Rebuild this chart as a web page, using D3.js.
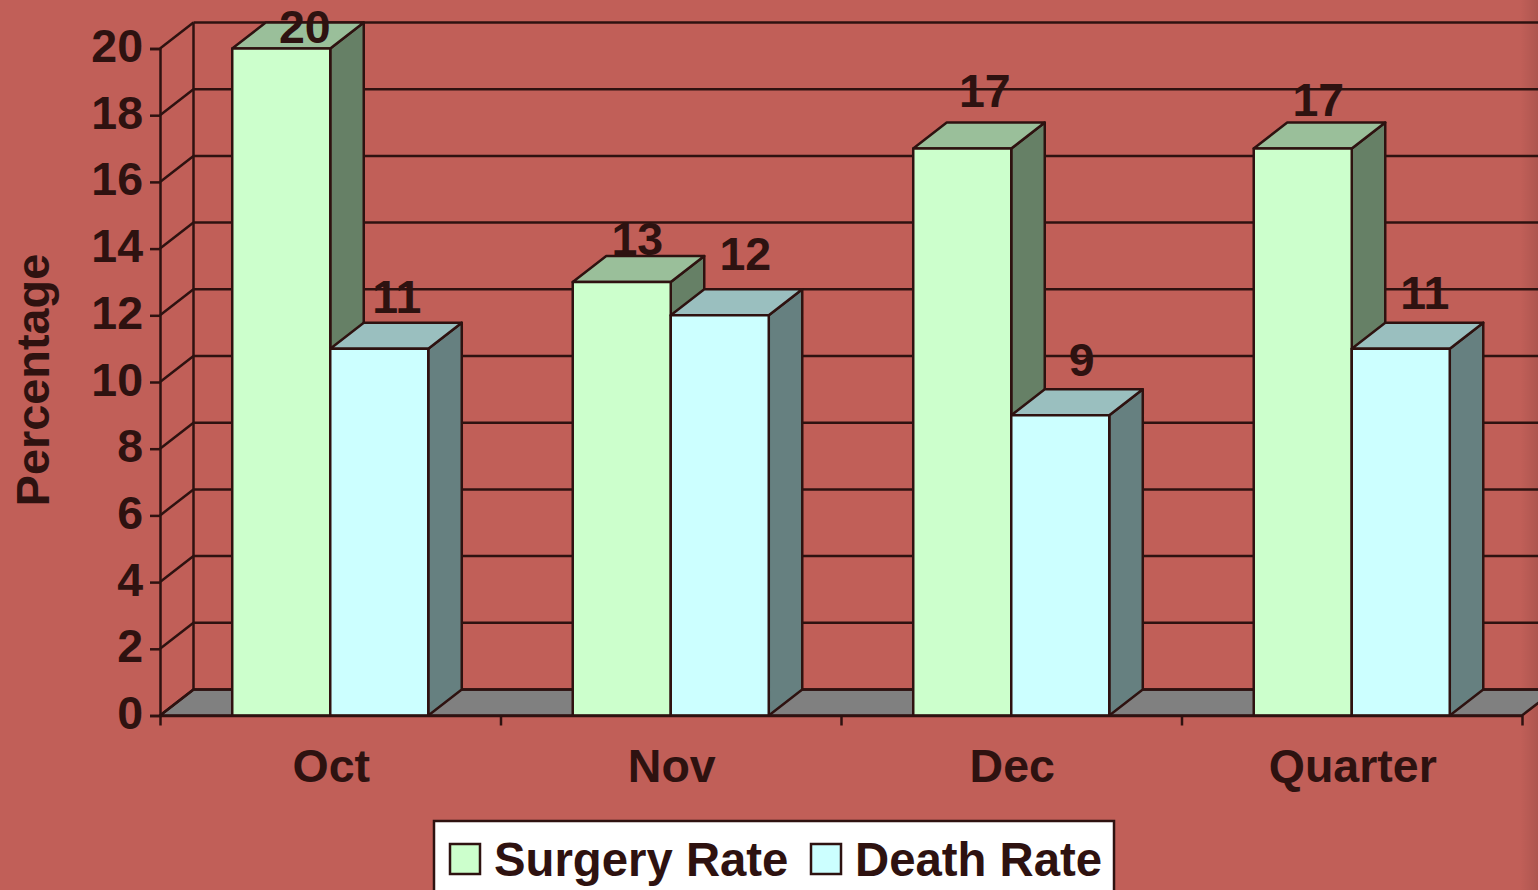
<!DOCTYPE html>
<html>
<head>
<meta charset="utf-8">
<script src="https://cdn.jsdelivr.net/npm/d3@7"></script>
<style>
  html, body { margin: 0; padding: 0; background: #c15f58; overflow: hidden; }
  svg { display: block; }
  text { font-family: "Liberation Sans", Arial, sans-serif; font-weight: bold; fill: #2e1210; }
</style>
</head>
<body>
<svg id="chart"></svg>
<script>
var categories = ['Oct', 'Nov', 'Dec', 'Quarter'];
var seriesNames = ['Surgery Rate', 'Death Rate'];
var surgeryRate = [20, 13, 17, 17];
var deathRate = [11, 12, 9, 11];
var yTicks = [0, 2, 4, 6, 8, 10, 12, 14, 16, 18, 20];

var ink = '#2e1210';
var front = ['#ccffcc', '#ccffff'];
var top3d = ['#9abf9a', '#9abfbf'];
var side = ['#668066', '#668080'];

// the 3d look: everything at the back is shifted by this much
var depthX = 33.5, depthY = -26;
var lineW = 2.5;

var width = 1538, height = 890;

var svg = d3.select('#chart').attr('width', width).attr('height', height);

var defs = svg.append('defs');
var edge = defs.append('linearGradient').attr('id', 'edge');
edge.append('stop').attr('offset', '0').attr('stop-color', '#000').attr('stop-opacity', 0);
edge.append('stop').attr('offset', '1').attr('stop-color', '#000').attr('stop-opacity', 0.1);

svg.append('rect')
  .attr('x', 1520).attr('y', 0)
  .attr('width', 18).attr('height', height)
  .attr('fill', 'url(#edge)');

var x = d3.scaleBand().domain(categories).range([160, 1522]);
var xInner = d3.scaleBand()
  .domain(d3.range(seriesNames.length))
  .range([0, x.bandwidth()])
  .paddingInner(0)
  .paddingOuter(0.737);
var y = d3.scaleLinear().domain([0, 20]).range([715.5, 48.5]);

function pts(list) {
  return list.map(function (p) { return p.join(','); }).join(' ');
}

// floor
svg.append('polygon')
  .attr('points', pts([[160, y(0)], [160 + depthX, y(0) + depthY], [1522 + depthX, y(0) + depthY], [1522, y(0)]]))
  .attr('fill', '#808080')
  .attr('stroke', ink)
  .attr('stroke-width', lineW);

// back wall grid lines and the diagonals on the side wall
var grid = svg.append('g').attr('stroke', ink).attr('stroke-width', lineW);
grid.selectAll('.back')
  .data(yTicks)
  .enter()
  .append('line')
  .attr('class', 'back')
  .attr('x1', 160 + depthX)
  .attr('x2', width)
  .attr('y1', function (d) { return y(d) + depthY; })
  .attr('y2', function (d) { return y(d) + depthY; });
grid.selectAll('.diag')
  .data(yTicks)
  .enter()
  .append('line')
  .attr('class', 'diag')
  .attr('x1', 160)
  .attr('x2', 160 + depthX)
  .attr('y1', function (d) { return y(d); })
  .attr('y2', function (d) { return y(d) + depthY; });
grid.append('line')
  .attr('x1', 160 + depthX).attr('x2', 160 + depthX)
  .attr('y1', y(0) + depthY).attr('y2', y(20) + depthY);

// bars, left to right so each one covers the side of the previous
var bars = [];
categories.forEach(function (c, i) {
  bars.push({ cat: c, s: 0, value: surgeryRate[i] });
  bars.push({ cat: c, s: 1, value: deathRate[i] });
});

var bw = xInner.bandwidth();
var barG = svg.selectAll('.bar')
  .data(bars)
  .enter()
  .append('g')
  .attr('class', 'bar')
  .attr('stroke', ink)
  .attr('stroke-width', lineW)
  .attr('stroke-linejoin', 'round');

function barX(d) { return x(d.cat) + xInner(d.s); }

barG.append('polygon')
  .attr('fill', function (d) { return side[d.s]; })
  .attr('points', function (d) {
    var r = barX(d) + bw;
    return pts([[r, y(d.value)], [r + depthX, y(d.value) + depthY], [r + depthX, y(0) + depthY], [r, y(0)]]);
  });
barG.append('polygon')
  .attr('fill', function (d) { return top3d[d.s]; })
  .attr('points', function (d) {
    var l = barX(d);
    return pts([[l, y(d.value)], [l + depthX, y(d.value) + depthY], [l + bw + depthX, y(d.value) + depthY], [l + bw, y(d.value)]]);
  });
barG.append('rect')
  .attr('fill', function (d) { return front[d.s]; })
  .attr('x', barX)
  .attr('y', function (d) { return y(d.value); })
  .attr('width', bw)
  .attr('height', function (d) { return y(0) - y(d.value); });

// axes
var yAxis = svg.append('g')
  .attr('transform', 'translate(160,0)')
  .call(d3.axisLeft(y).tickValues(yTicks).tickSize(10).tickPadding(7));
var xAxis = svg.append('g')
  .attr('transform', 'translate(0,' + y(0) + ')')
  .call(d3.axisBottom(x).tickSize(0).tickPadding(33));

xAxis.selectAll('.xtick')
  .data(categories.concat(['end']))
  .enter()
  .append('line')
  .attr('class', 'xtick')
  .attr('x1', function (d, i) { return 160.5 + i * x.step(); })
  .attr('x2', function (d, i) { return 160.5 + i * x.step(); })
  .attr('y1', 0)
  .attr('y2', 10);

svg.selectAll('.domain, .tick line, .xtick')
  .attr('stroke', ink)
  .attr('stroke-width', lineW);
svg.selectAll('.tick text')
  .style('font-family', '"Liberation Sans", Arial, sans-serif')
  .style('font-weight', 'bold')
  .style('font-size', '46.5px')
  .attr('fill', ink);
yAxis.selectAll('.tick text').attr('dy', '0.28em');
xAxis.selectAll('.tick text').attr('dx', 1);

// value labels, they don't sit evenly above the bars in the original
var labelNudge = [23.5, 17.5, 15.5, 25.5, 22.5, 21.5, 15.5, 24];
var labelLift = [20, -10, -1, -19, -16, -13, -7, -14];
svg.selectAll('.value')
  .data(bars)
  .enter()
  .append('text')
  .attr('class', 'value')
  .attr('x', function (d, i) { return barX(d) + bw / 2 + labelNudge[i]; })
  .attr('y', function (d, i) { return y(d.value) - 26 + labelLift[i]; })
  .attr('text-anchor', 'middle')
  .style('font-size', '46.5px')
  .text(function (d) { return d.value; });

svg.append('text')
  .attr('transform', 'translate(49,380) rotate(-90)')
  .attr('text-anchor', 'middle')
  .style('font-size', '46.8px')
  .text('Percentage');

// legend
var legend = svg.append('g');
legend.append('rect')
  .attr('x', 434).attr('y', 821)
  .attr('width', 680).attr('height', 80)
  .attr('fill', '#fff')
  .attr('stroke', ink)
  .attr('stroke-width', lineW);
var legendX = [450, 811];
seriesNames.forEach(function (name, i) {
  legend.append('rect')
    .attr('x', legendX[i]).attr('y', 844)
    .attr('width', 30).attr('height', 30)
    .attr('fill', front[i])
    .attr('stroke', ink)
    .attr('stroke-width', lineW);
  legend.append('text')
    .attr('x', legendX[i] + 44)
    .attr('y', 876)
    .style('font-size', '47.3px')
    .text(name);
});
</script>
</body>
</html>
